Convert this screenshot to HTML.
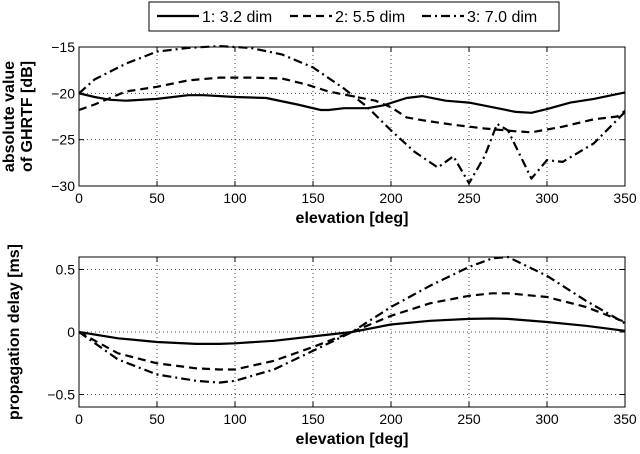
<!DOCTYPE html>
<html><head><meta charset="utf-8"><style>
body{margin:0;background:#fff}
svg{display:block;font-family:"Liberation Sans",Arial,sans-serif}
</style></head><body>
<svg id="c" width="640" height="454" viewBox="0 0 640 454"></svg>
<script>
const xTicks=[0,50,100,150,200,250,300,350];
const topTicks=[-15,-20,-25,-30];
const botTicks=[0.5,0,-0.5];
const seriesNames=["1: 3.2 dim","2: 5.5 dim","3: 7.0 dim"];
const top1X=[0,10,20,30,50,70,80,100,120,140,155,160,170,185,195,210,220,235,250,265,280,290,300,315,330,350];
const top1Y=[-20,-20.4,-20.7,-20.8,-20.6,-20.2,-20.2,-20.4,-20.5,-21.2,-21.8,-21.8,-21.6,-21.6,-21.3,-20.5,-20.3,-20.8,-21.0,-21.5,-22.0,-22.1,-21.7,-21.0,-20.6,-19.9];
const top2X=[0,10,20,30,50,70,90,110,130,145,160,175,190,200,210,220,240,260,280,290,310,330,345,350];
const top2Y=[-21.8,-21.2,-20.5,-19.8,-19.3,-18.6,-18.3,-18.3,-18.4,-19.0,-19.8,-20.3,-20.8,-21.5,-22.6,-22.9,-23.4,-23.8,-24.1,-24.2,-23.6,-22.8,-22.5,-21.9];
const top3X=[0,10,30,50,70,90,110,130,150,170,185,200,215,230,240,250,260,268,275,290,300,310,330,350];
const top3Y=[-20,-18.5,-16.8,-15.5,-15.1,-14.9,-15.1,-15.8,-17.2,-19.5,-21.5,-24,-26.3,-28,-26.8,-29.7,-26.8,-23.3,-24,-29.2,-27.2,-27.4,-25.4,-22];
const botX=[0,25,50,75,90,100,125,150,175,200,225,250,265,275,300,325,350];
const bot1Y=[0,-0.05,-0.08,-0.095,-0.095,-0.09,-0.07,-0.035,0,0.06,0.09,0.105,0.108,0.105,0.08,0.05,0.01];
const bot2Y=[0,-0.17,-0.25,-0.29,-0.3,-0.3,-0.23,-0.12,0,0.13,0.23,0.29,0.31,0.31,0.28,0.2,0.08];
const bot3Y=[0,-0.22,-0.34,-0.39,-0.405,-0.39,-0.3,-0.15,0,0.2,0.37,0.52,0.59,0.6,0.45,0.25,0.07];

const NS="http://www.w3.org/2000/svg";
const svg=document.getElementById('c');
function mk(tag,attrs,parent){const e=document.createElementNS(NS,tag);for(const k in attrs)e.setAttribute(k,attrs[k]);(parent||svg).appendChild(e);return e;}
const X0=79,X1=625;
const xs=v=>X0+(v-0)/(350-0)*(X1-X0);
const dashes=["","8,5","9,4,2,4"];
function panel(name,y0,y1,ymin,ymax,ticks,fmt,series,ylabel){
  const ys=v=>y1-(v-ymin)/(ymax-ymin)*(y1-y0);
  const g=mk('g',{});
  
  
  xTicks.forEach(t=>{
    if(t>0&&t<350){const l=mk('line',{x1:xs(t),x2:xs(t),y1:y0,y2:y1,stroke:'#444','stroke-width':1,'stroke-dasharray':'1,3'},g);
    }
    mk('line',{x1:xs(t),x2:xs(t),y1:y1,y2:y1-5,stroke:'#000'},g);
    mk('line',{x1:xs(t),x2:xs(t),y1:y0,y2:y0+5,stroke:'#000'},g);
    const tx=mk('text',{x:xs(t),y:y1+17,'text-anchor':'middle','font-size':14},g);tx.textContent=t;
    
  });
  ticks.forEach(t=>{
    const y=ys(t);
    if(y>y0+1&&y<y1-1){const l=mk('line',{x1:X0,x2:X1,y1:y,y2:y,stroke:'#444','stroke-width':1,'stroke-dasharray':'1,3'},g);
    }
    mk('line',{x1:X0,x2:X0+5,y1:y,y2:y,stroke:'#000'},g);
    mk('line',{x1:X1,x2:X1-5,y1:y,y2:y,stroke:'#000'},g);
    const tx=mk('text',{x:X0-4,y:y+5,'text-anchor':'end','font-size':14},g);tx.textContent=fmt(t);
    
  });
  series.forEach((s,i)=>{
    const d=s[0].map((x,j)=>(j?'L':'M')+xs(x).toFixed(1)+','+ys(s[1][j]).toFixed(1)).join('');
    const p=mk('path',{d:d,fill:'none',stroke:'#000','stroke-width':2.2,'stroke-dasharray':dashes[i],'stroke-linejoin':'round'},g);
    
    
  });
  const r=mk('rect',{x:X0,y:y0,width:X1-X0,height:y1-y0,fill:'none',stroke:'#000','stroke-width':1},g);
  
  const xl=mk('text',{x:(X0+X1)/2,y:y1+37,'text-anchor':'middle','font-size':16,'font-weight':'bold'},g);
  xl.textContent='elevation [deg]';
  
  const cy=(y0+y1)/2;
  ylabel.forEach((t,k)=>{
    const off=ylabel.length===1?19:(k===0?14:32);
    const yl=mk('text',{x:off,y:cy,'text-anchor':'middle','font-size':16,'font-weight':'bold',transform:`rotate(-90 ${off} ${cy})`},g);
    yl.textContent=t;
    
  });
}
panel('top-panel',47,186,-30,-15,topTicks,t=>'\u2212'+Math.abs(t),[[top1X,top1Y],[top2X,top2Y],[top3X,top3Y]],['absolute value','of GHRTF [dB]']);
panel('bottom-panel',257,407,-0.6,0.6,botTicks,t=>t<0?'\u2212'+Math.abs(t):String(t),[[botX,bot1Y],[botX,bot2Y],[botX,bot3Y]],['propagation delay [ms]']);

const lg=mk('g',{});


mk('rect',{x:149,y:2,width:410,height:29,fill:'#fff',stroke:'#000'},lg);
const lx=[157,290,422];
seriesNames.forEach((n,i)=>{
  const l=mk('line',{x1:lx[i],x2:lx[i]+42,y1:16,y2:16,stroke:'#000','stroke-width':2.2,'stroke-dasharray':dashes[i]},lg);
  
  const t=mk('text',{x:lx[i]+45,y:22,'font-size':16},lg);t.textContent=n;
  
});
</script>
</body></html>
